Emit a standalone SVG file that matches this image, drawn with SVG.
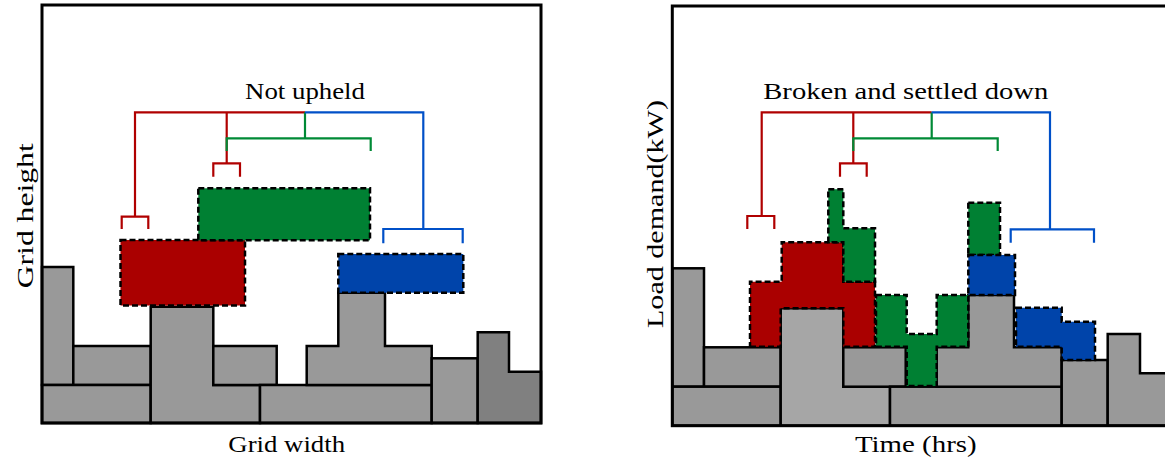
<svg xmlns="http://www.w3.org/2000/svg" width="1165" height="457" viewBox="0 0 1165 457">
<style>
.bg{fill:#ffffff}
.frame{fill:none;stroke:#000;stroke-width:3}
.gr{fill:#999999;stroke:#000;stroke-width:2.5;stroke-linejoin:miter}
.gl{fill:#a6a6a6;stroke:#000;stroke-width:2.5}
.gd{fill:#808080;stroke:#000;stroke-width:2.5}
.red{fill:#aa0000;stroke:#000;stroke-width:2.5;stroke-dasharray:6,3}
.grn{fill:#008033;stroke:#000;stroke-width:2.5;stroke-dasharray:6,3}
.blu{fill:#0044aa;stroke:#000;stroke-width:2.5;stroke-dasharray:6,3}
.br{fill:none;stroke-width:2.2;stroke-linecap:butt;stroke-linejoin:miter}
.bR{stroke:#b00000}
.bG{stroke:#008a36}
.bB{stroke:#0050c8}
.t{font-family:"Liberation Serif","DejaVu Serif",serif;font-size:24px;fill:#000}
</style>
<rect class="bg" x="0" y="0" width="1165" height="457"/>

<g id="left-panel">
  <g id="left-ground">
    <rect class="gr" x="42" y="267" width="31.3" height="118"/>
    <rect class="gr" x="73.3" y="346" width="77.4" height="39"/>
    <rect class="gr" x="42" y="385" width="108.7" height="38"/>
    <polygon class="gr" points="150.7,306.7 213.3,306.7 213.3,385 260,385 260,423 150.7,423"/>
    <rect class="gr" x="213.3" y="346" width="63.4" height="39"/>
    <rect class="gr" x="260" y="385" width="171.7" height="38"/>
    <polygon class="gr" points="338.3,292.7 385,292.7 385,346 431.7,346 431.7,385 306.7,385 306.7,346 338.3,346"/>
    <rect class="gr" x="431.7" y="358.3" width="46" height="64.7"/>
    <polygon class="gd" points="477.7,332.3 509,332.3 509,371.7 541,371.7 541,423 477.7,423"/>
  </g>
  <g id="left-red"><rect class="red" x="120.5" y="240" width="124.5" height="65.5"/></g>
  <g id="left-green"><rect class="grn" x="198.3" y="188.3" width="171.7" height="52"/></g>
  <g id="left-blue"><rect class="blu" x="338.3" y="254" width="125" height="38.7"/></g>
  <rect class="frame" x="42" y="5" width="499" height="418"/>
  <text class="t" x="305" y="99" text-anchor="middle" textLength="120" lengthAdjust="spacingAndGlyphs">Not upheld</text>
  <text class="t" x="286.7" y="451.5" text-anchor="middle" textLength="116.7" lengthAdjust="spacingAndGlyphs">Grid width</text>
  <text class="t" transform="translate(33,215.8) rotate(-90)" x="0" y="0" text-anchor="middle" textLength="145" lengthAdjust="spacingAndGlyphs">Grid height</text>
</g>

<g id="right-panel">
  <g id="right-ground">
    <rect class="gr" x="672.3" y="268.3" width="31.7" height="118.4"/>
    <rect class="gr" x="704" y="347.3" width="76.7" height="39.4"/>
    <rect class="gr" x="672.3" y="386.7" width="108.4" height="39"/>
    <polygon class="gl" points="780.7,308.3 843.3,308.3 843.3,386.7 890,386.7 890,425.7 780.7,425.7"/>
    <rect class="gr" x="843.3" y="347.3" width="62.4" height="39.4"/>
    <rect class="gr" x="890" y="386.7" width="171.7" height="39"/>
    <polygon class="gr" points="968.3,295 1014,295 1014,347.3 1061.7,347.3 1061.7,386.7 936.7,386.7 936.7,347.3 968.3,347.3"/>
    <rect class="gr" x="1061.7" y="360" width="46" height="65.7"/>
    <polygon class="gr" points="1107.7,334 1140,334 1140,373.3 1172,373.3 1172,425.7 1107.7,425.7"/>
  </g>
  <g id="right-red"><polygon class="red" points="750,346.7 780.7,346.7 780.7,308.3 843.3,308.3 843.3,346.7 875,346.7 875,281.7 843.3,281.7 843.3,242.3 781.7,242.3 781.7,281.7 750,281.7"/></g>
  <g id="right-green">
    <polygon class="grn" points="828.3,189.3 843.3,189.3 843.3,228.3 875,228.3 875,281.7 843.3,281.7 843.3,242.3 828.3,242.3"/>
    <polygon class="grn" points="876,295 906.7,295 906.7,334 936.7,334 936.7,295 968.3,295 968.3,346.7 936.7,346.7 936.7,386 906.7,386 906.7,346.7 876,346.7"/>
    <rect class="grn" x="968.3" y="202.7" width="31.7" height="52.3"/>
  </g>
  <g id="right-blue">
    <rect class="blu" x="968.3" y="255" width="46.7" height="40"/>
    <polygon class="blu" points="1016,307.7 1061.7,307.7 1061.7,321.7 1095,321.7 1095,360 1061.7,360 1061.7,346.7 1016,346.7"/>
  </g>
  <rect class="frame" x="672.3" y="6" width="520" height="419.7"/>
  <text class="t" x="905.8" y="98.5" text-anchor="middle" textLength="285" lengthAdjust="spacingAndGlyphs">Broken and settled down</text>
  <text class="t" x="915.8" y="451.5" text-anchor="middle" textLength="121.7" lengthAdjust="spacingAndGlyphs">Time (hrs)</text>
  <text class="t" transform="translate(663,214) rotate(-90)" x="0" y="0" text-anchor="middle" textLength="228" lengthAdjust="spacingAndGlyphs">Load demand(kW)</text>
</g>

<g id="connectors">
  <g id="left-brackets">
    <path class="br bR" d="M305,112.3 H135 V216.7 M121.7,229 V216.7 H148.3 V229"/>
    <path class="br bR" d="M226.7,112.3 V163.3 M213.3,176.7 V163.3 H240 V176.7"/>
    <path class="br bG" d="M305,112.3 V138.3 M226.7,151 V138.3 H370.7 V151"/>
    <path class="br bB" d="M305,112.3 H423.3 V229 M383.3,243.3 V229 H462.7 V243.3"/>
  </g>
  <g id="right-brackets">
    <path class="br bR" d="M931.7,112.3 H761.7 V216 M747.3,229 V216 H774.3 V229"/>
    <path class="br bR" d="M853.3,112.3 V163.3 M840,176.7 V163.3 H866.7 V176.7"/>
    <path class="br bG" d="M931.7,112.3 V138.3 M853.3,151 V138.3 H997.7 V151"/>
    <path class="br bB" d="M931.7,112.3 H1050 V229.3 M1010.7,242.7 V229.3 H1094 V242.7"/>
  </g>
</g>
</svg>
